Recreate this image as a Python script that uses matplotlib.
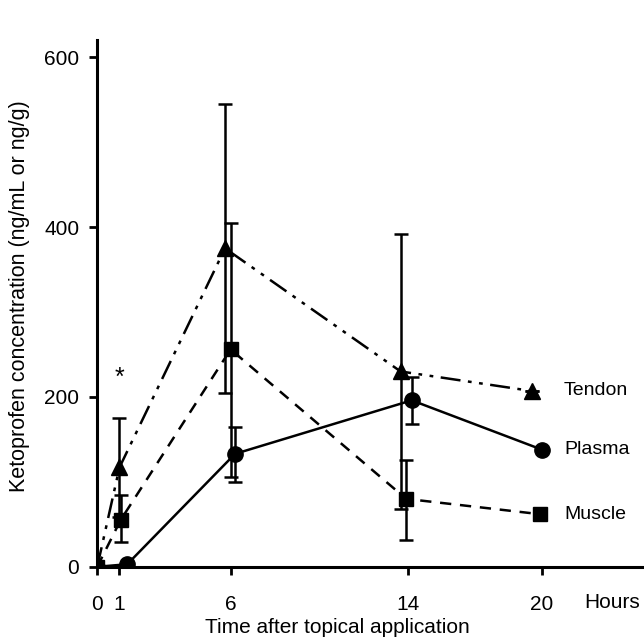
import numpy as np
import matplotlib.pyplot as plt

plt.rcParams['font.family'] = ['Liberation Sans', 'DejaVu Sans']

# time points (slightly offset per series, as in the original figure)
tendon_x = [0, 1.0, 5.75, 13.65, 19.55]
tendon_y = [0, 117, 375, 230, 207]
tendon_err = [0, 58, 170, 162, 0]

muscle_x = [0, 1.05, 6.0, 13.9, 19.9]
muscle_y = [0, 55, 256, 80, 62]
muscle_lo = [0, 26, 150, 48, 0]
muscle_hi = [0, 29, 149, 46, 0]

plasma_x = [0, 1.35, 6.2, 14.15, 20.0]
plasma_y = [0, 3, 133, 196, 138]
plasma_lo = [0, 0, 33, 28, 0]
plasma_hi = [0, 0, 32, 27, 0]

tick_pos = [0, 1, 6, 14, 20]
tick_lab = ['0', '1', '6', '14', '20']

fig = plt.figure(figsize=(6.44, 6.39), dpi=100)
ax = fig.add_axes([0.151, 0.113, 0.849, 0.824])

lw = 1.8
k = '#000000'
ax.errorbar(tendon_x, tendon_y, yerr=tendon_err, color=k, lw=lw,
            ls=(0, (8, 3, 1.5, 3, 1.5, 3)), marker='^', ms=11, capsize=5,
            elinewidth=lw, capthick=lw)
ax.errorbar(muscle_x, muscle_y, yerr=[muscle_lo, muscle_hi], color=k, lw=lw,
            ls=(0, (4.5, 3.5)), marker='s', ms=10, capsize=5,
            elinewidth=lw, capthick=lw)
ax.errorbar(plasma_x, plasma_y, yerr=[plasma_lo, plasma_hi], color=k, lw=lw,
            ls='-', marker='o', ms=11, capsize=5,
            elinewidth=lw, capthick=lw)

ax.text(1.0, 222, '*', ha='center', va='center', fontsize=18)
ax.text(21.0, 207, 'Tendon', va='center', fontsize=14)
ax.text(21.0, 138, 'Plasma', va='center', fontsize=14)
ax.text(21.0, 62, 'Muscle', va='center', fontsize=14)
ax.text(23.15, -42, 'Hours', ha='center', va='center', fontsize=15)

ax.set_xlim(0, 24.6)
ax.set_ylim(0, 620)
ax.set_xticks(tick_pos)
ax.set_xticklabels(tick_lab)
ax.set_yticks([0, 200, 400, 600])
ax.tick_params(labelsize=15, width=2, length=6, direction='out')
ax.tick_params(axis='x', pad=14)
ax.tick_params(axis='y', pad=7)
ax.spines['top'].set_visible(False)
ax.spines['right'].set_visible(False)
for s in ['left', 'bottom']:
    ax.spines[s].set_linewidth(2.2)
for a in [ax.xaxis, ax.yaxis]:
    for ln in a.get_ticklines():
        ln.set_clip_on(False)

ax.set_xlabel('Time after topical application', fontsize=15)
ax.xaxis.set_label_coords(0.44, -0.097)
ax.set_ylabel('Ketoprofen concentration (ng/mL or ng/g)', fontsize=15.5)
ax.yaxis.set_label_coords(-0.123, 0.515)

fig.savefig('out.png', dpi=100)
